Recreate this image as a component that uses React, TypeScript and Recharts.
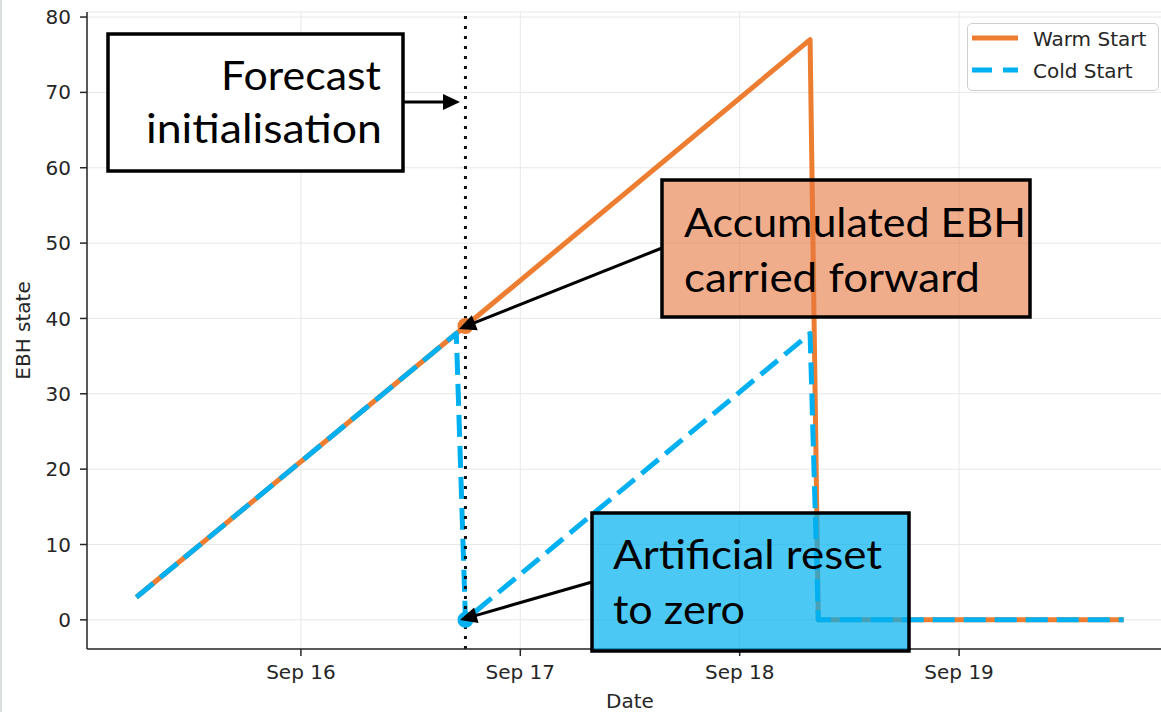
import React from 'react';
import {
  ComposedChart,
  Line,
  XAxis,
  YAxis,
  CartesianGrid,
  ReferenceLine,
  ReferenceDot,
  Legend,
  Label,
} from 'recharts';

// ---------- data (hours since Sep 15 00:00) ----------
const warmHours = [6, 42, 79.7, 80.6, 114];
const warmValues = [3, 39, 77, 0, 0];
const coldHours = [6, 41, 42, 79.7, 80.6, 114];
const coldValues = [3, 38, 0, 38, 0, 0];
const dateTicks = [24, 48, 72, 96];
const dateTickLabels = ['Sep 16', 'Sep 17', 'Sep 18', 'Sep 19'];
const ebhTicks = [0, 10, 20, 30, 40, 50, 60, 70, 80];
const forecastInitHour = 42;
const warmInitValue = 39;
const coldInitValue = 0;
const seriesNames = ['Warm Start', 'Cold Start'];

const warmData = warmHours.map((h, i) => ({ h, v: warmValues[i] }));
const coldData = coldHours.map((h, i) => ({ h, v: coldValues[i] }));

const ORANGE = '#ED7D31';
const BLUE = '#00B0F0';
const AXIS = '#262626';
const FONT = "'DejaVu Sans', sans-serif";
const BOXFONT = "Lato, 'Open Sans', sans-serif";

const X_DOMAIN: [number, number] = [0.6, 119.4];
const Y_DOMAIN: [number, number] = [-3.87, 80.67];

// ---------- annotation overlay ----------
type Arrow = { x1: number; y1: number; x2: number; y2: number };
const arrows: Arrow[] = [
  { x1: 404, y1: 102, x2: 460, y2: 102 },
  { x1: 662, y1: 248, x2: 459, y2: 329 },
  { x1: 592, y1: 582, x2: 460, y2: 620 },
];

type TextLine = { text: string; x: number; y: number; len: number };
type Box = {
  x: number; y: number; w: number; h: number;
  fill: string; opacity: number; anchor: 'start' | 'end'; lines: TextLine[];
};
const boxes: Box[] = [
  {
    x: 108, y: 34, w: 295, h: 137, fill: '#ffffff', opacity: 1, anchor: 'end',
    lines: [
      { text: 'Forecast', x: 381, y: 90, len: 160 },
      { text: 'initialisation', x: 382, y: 143, len: 236 },
    ],
  },
  {
    x: 662, y: 180, w: 368, h: 137, fill: '#E4773F', opacity: 0.6, anchor: 'start',
    lines: [
      { text: 'Accumulated EBH', x: 684, y: 237, len: 342 },
      { text: 'carried forward', x: 684, y: 292, len: 296 },
    ],
  },
  {
    x: 592, y: 513, w: 317, h: 138, fill: BLUE, opacity: 0.7, anchor: 'start',
    lines: [
      { text: 'Artificial reset', x: 613, y: 569, len: 269 },
      { text: 'to zero', x: 613, y: 624, len: 132 },
    ],
  },
];

function ArrowShape({ a }: { a: Arrow }) {
  const dx = a.x2 - a.x1;
  const dy = a.y2 - a.y1;
  const L = Math.sqrt(dx * dx + dy * dy);
  const ux = dx / L;
  const uy = dy / L;
  const headLen = 17;
  const halfW = 8;
  const bx = a.x2 - ux * headLen;
  const by = a.y2 - uy * headLen;
  const p1 = `${a.x2},${a.y2}`;
  const p2 = `${bx - uy * halfW},${by + ux * halfW}`;
  const p3 = `${bx + uy * halfW},${by - ux * halfW}`;
  return (
    <g>
      <line x1={a.x1} y1={a.y1} x2={bx + ux * 2} y2={by + uy * 2} stroke="#000" strokeWidth={3} />
      <polygon points={`${p1} ${p2} ${p3}`} fill="#000" />
    </g>
  );
}

function Overlay() {
  return (
    <svg
      width={1161}
      height={712}
      style={{ position: 'absolute', left: 0, top: 0, pointerEvents: 'none' }}
    >
      {arrows.map((a, i) => (
        <ArrowShape key={i} a={a} />
      ))}
      {boxes.map((b, i) => (
        <g key={i}>
          <rect
            x={b.x}
            y={b.y}
            width={b.w}
            height={b.h}
            fill={b.fill}
            fillOpacity={b.opacity}
            stroke="#000"
            strokeWidth={3.5}
          />
          {b.lines.map((l, j) => (
            <text
              key={j}
              x={l.x}
              y={l.y}
              textAnchor={b.anchor}
              textLength={l.len}
              lengthAdjust="spacingAndGlyphs"
              fontFamily={BOXFONT}
              fontSize={40}
              fill="#000"
            >
              {l.text}
            </text>
          ))}
        </g>
      ))}
    </svg>
  );
}

const legendItems = [
  { name: seriesNames[0], color: ORANGE, dash: undefined as string | undefined },
  { name: seriesNames[1], color: BLUE, dash: '20 11' },
];

function LegendBox() {
  return (
    <div
      style={{
        width: 192,
        height: 68,
        boxSizing: 'border-box',
        border: '1.5px solid #cfcfcf',
        borderRadius: 5,
        background: 'rgba(255,255,255,0.85)',
      }}
    >
      <svg width={190} height={66} style={{ display: 'block' }}>
        {legendItems.map((it, i) => {
          const y = 14 + i * 32;
          return (
            <g key={i}>
              <line
                x1={4}
                x2={50}
                y1={y}
                y2={y}
                stroke={it.color}
                strokeWidth={5}
                strokeDasharray={it.dash}
              />
              <text x={65} y={y + 8} fontFamily={FONT} fontSize={20} fill={AXIS}>
                {it.name}
              </text>
            </g>
          );
        })}
      </svg>
    </div>
  );
}

const yLabel = (props: any) => {
  const vb = props.viewBox || { x: 0, y: 12, width: 87, height: 637 };
  const cx = vb.x + 23;
  const cy = vb.y + vb.height / 2;
  return (
    <text
      x={cx}
      y={cy}
      transform={`rotate(-90 ${cx} ${cy})`}
      textAnchor="middle"
      dominantBaseline="central"
      fontFamily={FONT}
      fontSize={20}
      fill={AXIS}
    >
      EBH state
    </text>
  );
};

const InitDot = (props: any) => {
  const { cx, cy, fill } = props;
  if (cx == null || cy == null) return null;
  return <circle cx={cx} cy={cy} r={8} fill={fill} stroke="none" />;
};

export default function App() {
  return (
    <div
      style={{
        position: 'fixed',
        left: 0,
        top: 0,
        width: 1161,
        height: 712,
        overflow: 'hidden',
        background: '#fff',
      }}
    >
      <div style={{ position: 'absolute', left: 0, top: 0, width: 2, height: 712, background: '#dbe2de' }} />
      <ComposedChart
        width={1176}
        height={712}
        margin={{ top: 12, right: 3, bottom: 0, left: 0 }}
      >
        <CartesianGrid stroke="#e8e8e8" strokeWidth={1} />
        <XAxis
          xAxisId={0}
          dataKey="h"
          type="number"
          domain={X_DOMAIN}
          allowDataOverflow
          ticks={dateTicks}
          tickFormatter={(v: number) => dateTickLabels[dateTicks.indexOf(v)] ?? ''}
          height={63}
          tickSize={7}
          tickMargin={9}
          stroke={AXIS}
          strokeWidth={1.5}
          tick={{ fontFamily: FONT, fontSize: 20, fill: AXIS }}
          tickLine={{ stroke: AXIS, strokeWidth: 1.5 }}
        >
          <Label value="Date" position="insideBottom" offset={4} style={{ fontFamily: FONT, fontSize: 20, fill: AXIS }} />
        </XAxis>
        <XAxis
          xAxisId="top"
          orientation="top"
          type="number"
          domain={X_DOMAIN}
          allowDataOverflow
          ticks={[]}
          tick={false}
          tickLine={false}
          height={0}
          stroke={AXIS}
          strokeWidth={1.5}
        />
        <YAxis
          type="number"
          domain={Y_DOMAIN}
          allowDataOverflow
          ticks={ebhTicks}
          width={87}
          tickSize={7}
          tickMargin={9}
          stroke={AXIS}
          strokeWidth={1.5}
          tick={{ fontFamily: FONT, fontSize: 20, fill: AXIS }}
          tickLine={{ stroke: AXIS, strokeWidth: 1.5 }}
        >
          <Label content={yLabel} />
        </YAxis>
        <Line
          data={warmData}
          dataKey="v"
          name={seriesNames[0]}
          type="linear"
          stroke={ORANGE}
          strokeWidth={5}
          strokeLinejoin="round"
          dot={false}
          activeDot={false}
          isAnimationActive={false}
        />
        <Line
          data={coldData}
          dataKey="v"
          name={seriesNames[1]}
          type="linear"
          stroke={BLUE}
          strokeWidth={5}
          strokeDasharray="22 9"
          strokeLinejoin="round"
          dot={false}
          activeDot={false}
          isAnimationActive={false}
        />
        <ReferenceLine
          x={forecastInitHour}
          stroke="#111"
          strokeWidth={3}
          strokeDasharray="3 7"
        />
        <ReferenceDot
          x={forecastInitHour}
          y={warmInitValue}
          r={8}
          fill={ORANGE}
          ifOverflow="visible"
          shape={<InitDot />}
        />
        <ReferenceDot
          x={forecastInitHour}
          y={coldInitValue}
          r={8}
          fill={BLUE}
          ifOverflow="visible"
          shape={<InitDot />}
        />
        <Legend
          layout="vertical"
          align="center"
          verticalAlign="middle"
          content={<LegendBox />}
          wrapperStyle={{ left: 967, top: 23, width: 192, height: 68 }}
        />
      </ComposedChart>
      <Overlay />
    </div>
  );
}
